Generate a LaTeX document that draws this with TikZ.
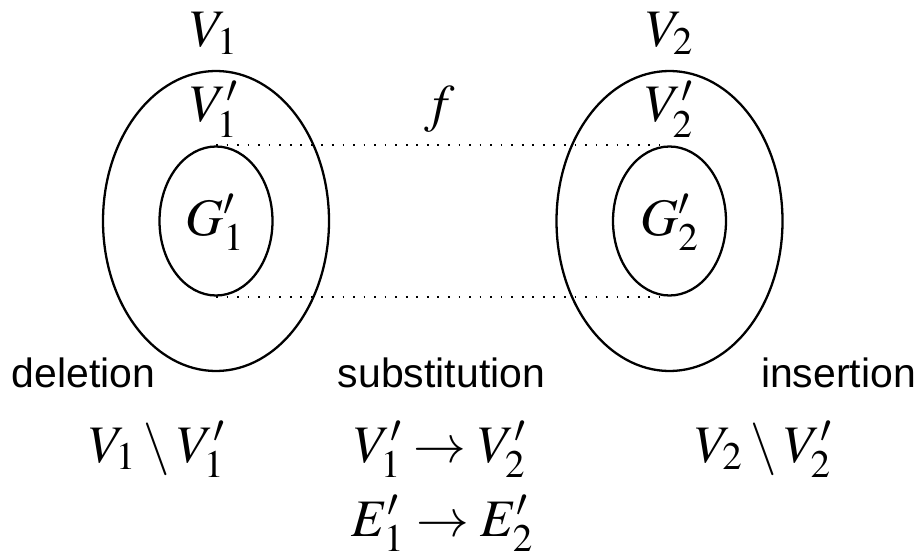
\documentclass[tikz,border=0pt]{standalone}
\usepackage{mathptmx}
\usepackage[no-math]{fontspec}
\setsansfont{Liberation Sans}
\usepackage{tikz}
\usetikzlibrary{shapes.geometric,positioning}

\begin{document}
\begin{tikzpicture}[
  set/.style={draw, ellipse, line width=1.3pt, inner sep=0pt},
  outerset/.style={set, minimum width=4.52cm, minimum height=6cm},
  innerset/.style={set, minimum width=2.26cm, minimum height=2.98cm},
  lbl/.style={anchor=base, inner sep=0pt, font=\fontsize{30}{36}\selectfont},
  op/.style={anchor=base, inner sep=0pt, font=\sffamily\fontsize{23.3}{28}\selectfont},
  link/.style={line width=1pt, dash pattern=on 1pt off 5pt}
]
\useasboundingbox (0,0) rectangle (18.4,-11.06);

% the two graphs
\node[outerset] (out1) at (4.32,-4.42) {};
\node[innerset] (in1) at (4.32,-4.42) {};
\node[outerset] (out2) at (13.39,-4.42) {};
\node[innerset] (in2) at (13.39,-4.42) {};

\node[lbl] (v1) at (4.28,-0.94) {$V_1$};
\node[lbl] (v1p) at (4.28,-2.44) {$V_1'$};
\node[lbl] (g1p) at (4.3,-4.7) {$G_1'$};
\node[lbl] (v2) at (13.39,-0.94) {$V_2$};
\node[lbl] (v2p) at (13.39,-2.44) {$V_2'$};
\node[lbl] (g2p) at (13.39,-4.7) {$G_2'$};
\node[lbl] (map) at (8.8,-2.44) {$f$};

% mapping
\draw[link] (in1.north) -- ([xshift=-0.19cm]in2.north);
\draw[link] (in1.south) -- ([xshift=-0.19cm]in2.south);

% edit operations
\node[op] (del) at (1.67,-7.74) {deletion};
\node[op] (sub) at (8.83,-7.74) {substitution};
\node[op] (ins) at (16.77,-7.74) {insertion};

\node[lbl] (delset) at (3.14,-9.24) {$V_1\setminus V_1'$};
\node[lbl] (subv) at (8.8,-9.24) {$V_1'\to V_2'$};
\node[lbl] (sube) at (8.85,-10.72) {$E_1'\to E_2'$};
\node[lbl] (insset) at (15.27,-9.24) {$V_2\setminus V_2'$};
\end{tikzpicture}
\end{document}
